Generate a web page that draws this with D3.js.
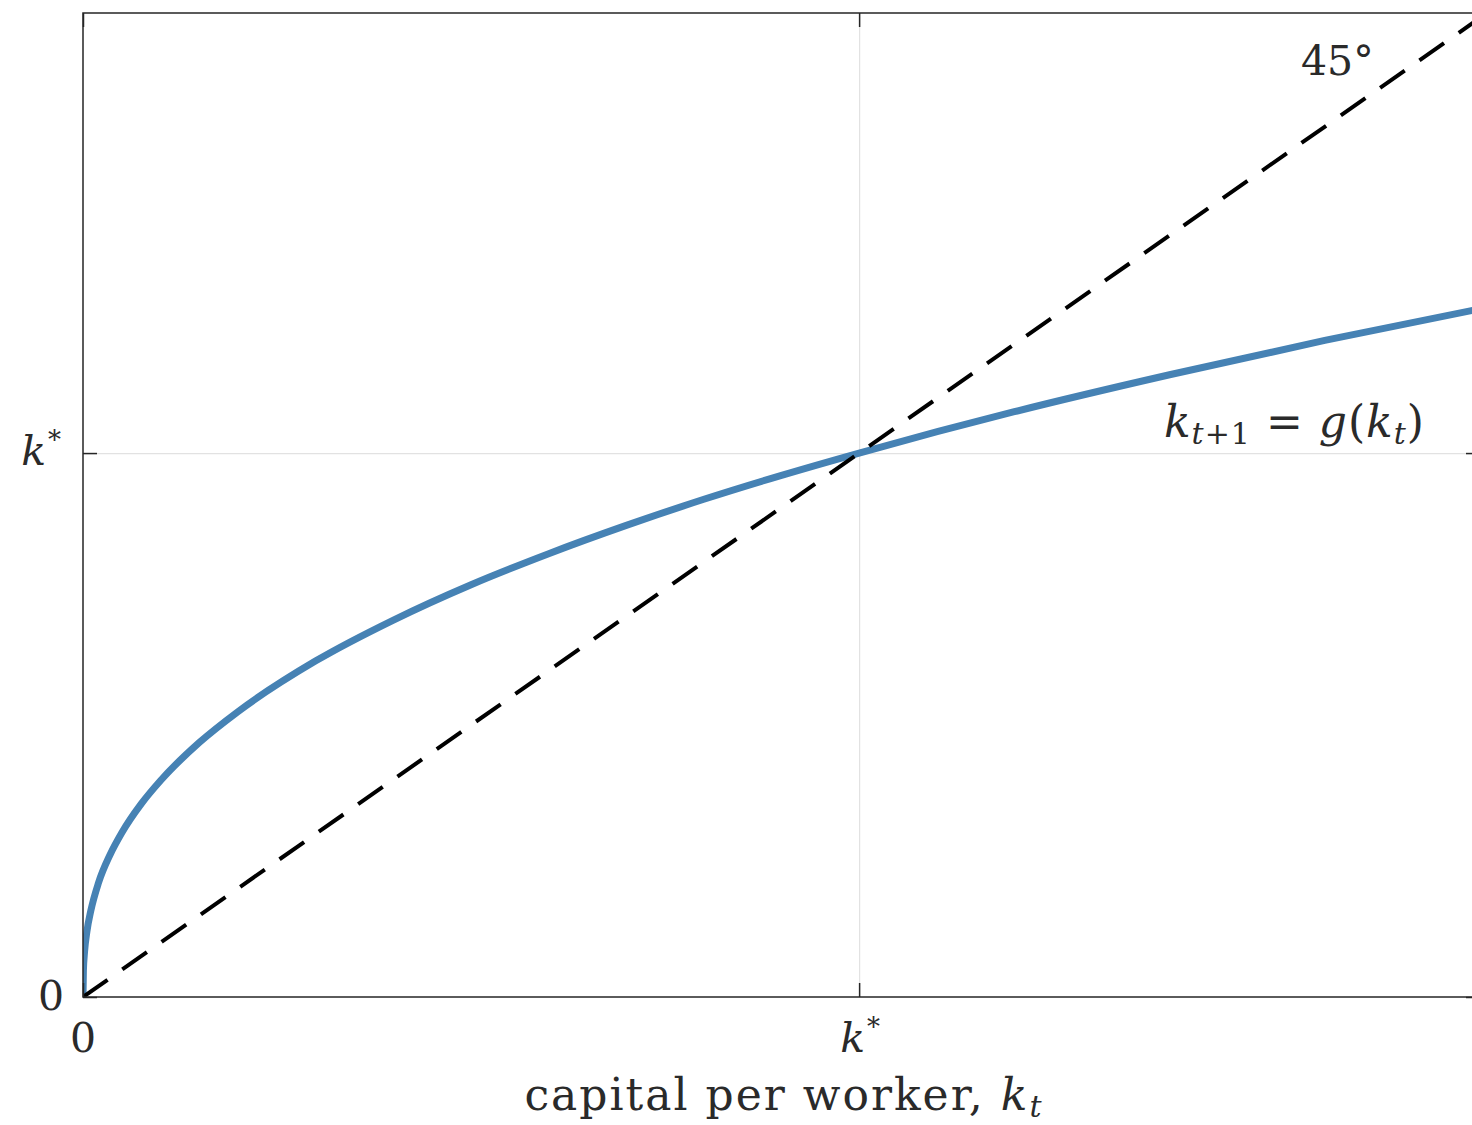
<!DOCTYPE html>
<html>
<head>
<meta charset="utf-8">
<script src="https://cdn.jsdelivr.net/npm/d3@7"></script>
<style>
  html, body { margin: 0; padding: 0; background: #fff; }
  svg { display: block; }
  text { font-family: "DejaVu Serif", "Liberation Serif", serif; fill: #2a2a2a; }
</style>
</head>
<body>
<svg id="chart" width="1472" height="1125"></svg>
<script>
// Capital per worker today (k_t) and next period (k_{t+1} = g(k_t)), in units of k*
const capital = [0, 0.0005, 0.002, 0.005, 0.01, 0.02, 0.035, 0.05, 0.075, 0.1, 0.15, 0.2,
                 0.3, 0.4, 0.5, 0.6, 0.7, 0.8, 0.9, 1.0, 1.2, 1.4, 1.6, 1.8];
const nextCapital = [0, 0.048, 0.083, 0.12, 0.158, 0.21, 0.262, 0.302, 0.355, 0.398, 0.468, 0.525,
                     0.618, 0.693, 0.758, 0.815, 0.867, 0.915, 0.959, 1.0, 1.076, 1.144, 1.207, 1.265];
// 45-degree reference line
const diagonal = [0, 1.8];
// Axis ticks: origin and steady state
const tickValues = [0, 1];
const tickLabels = ["0", "k*"];
const xDomain = [0, 1.8];
const yDomain = [0, 1.809];

const margin = { left: 83, top: 13 };
const plotW = 1397, plotH = 984;
const svg = d3.select("#chart");

const x = d3.scaleLinear().domain(xDomain).range([margin.left, margin.left + plotW]);
const y = d3.scaleLinear().domain(yDomain).range([margin.top + plotH, margin.top]);

svg.append("defs").append("clipPath").attr("id", "plot-clip")
  .append("rect")
  .attr("x", margin.left).attr("y", margin.top)
  .attr("width", plotW).attr("height", plotH);

// Grid lines at the steady state
const grid = svg.append("g").attr("class", "grid");
grid.append("g")
  .attr("transform", `translate(0,${margin.top + plotH})`)
  .call(d3.axisBottom(x).tickValues([1]).tickSize(-plotH).tickFormat(""))
  .call(g => g.select(".domain").remove())
  .call(g => g.selectAll("line").attr("stroke", "#e2e2e2").attr("stroke-width", 1.2));
grid.append("g")
  .attr("transform", `translate(${margin.left},0)`)
  .call(d3.axisLeft(y).tickValues([1]).tickSize(-plotW).tickFormat(""))
  .call(g => g.select(".domain").remove())
  .call(g => g.selectAll("line").attr("stroke", "#e2e2e2").attr("stroke-width", 1.2));

const plot = svg.append("g").attr("clip-path", "url(#plot-clip)");

// Law of motion for capital
plot.append("path")
  .datum(capital.map((k, i) => [k, nextCapital[i]]))
  .attr("fill", "none")
  .attr("stroke", "#4682b4")
  .attr("stroke-width", 7)
  .attr("d", d3.line().x(d => x(d[0])).y(d => y(d[1])).curve(d3.curveMonotoneX));

// 45-degree line
plot.append("path")
  .datum(diagonal.map(v => [v, v]))
  .attr("fill", "none")
  .attr("stroke", "#000")
  .attr("stroke-width", 4)
  .attr("stroke-dasharray", "30,18")
  .attr("d", d3.line().x(d => x(d[0])).y(d => y(d[1])));

// Axis box with inward ticks on all sides
const tickColor = "#262626";
function styleAxis(g) {
  g.select(".domain").remove();
  g.selectAll(".tick line").attr("stroke", tickColor).attr("stroke-width", 1.5);
}
svg.append("g")
  .attr("transform", `translate(0,${margin.top + plotH})`)
  .call(d3.axisBottom(x).tickValues(tickValues).tickSize(-14).tickFormat(""))
  .call(styleAxis);
svg.append("g")
  .attr("transform", `translate(0,${margin.top})`)
  .call(d3.axisTop(x).tickValues(tickValues).tickSize(-14).tickFormat(""))
  .call(styleAxis);
svg.append("g")
  .attr("transform", `translate(${margin.left},0)`)
  .call(d3.axisLeft(y).tickValues(tickValues).tickSize(-14).tickFormat(""))
  .call(styleAxis);
svg.append("g")
  .attr("transform", `translate(${margin.left + plotW},0)`)
  .call(d3.axisRight(y).tickValues(tickValues).tickSize(-14).tickFormat(""))
  .call(styleAxis);

svg.append("rect")
  .attr("x", margin.left).attr("y", margin.top)
  .attr("width", plotW).attr("height", plotH)
  .attr("fill", "none")
  .attr("stroke", tickColor)
  .attr("stroke-width", 1.5);

// Tick labels
function writeLabel(sel, label) {
  if (label === "k*") {
    sel.append("tspan").attr("font-style", "italic").text("k");
    sel.append("tspan").attr("font-size", 26).attr("dy", -16).attr("dx", 2).text("*");
  } else {
    sel.text(label);
  }
}
const labelSize = 41;
tickValues.forEach((v, i) => {
  const tb = svg.append("text")
    .attr("x", x(v) + (i === 1 ? 1 : 0))
    .attr("y", 1052)
    .attr("text-anchor", "middle")
    .attr("font-size", labelSize);
  writeLabel(tb, tickLabels[i]);

  const tl = svg.append("text")
    .attr("x", i === 0 ? 64 : 61)
    .attr("y", y(v) + (i === 0 ? 13 : 12))
    .attr("text-anchor", "end")
    .attr("font-size", labelSize);
  writeLabel(tl, tickLabels[i]);
});

// Axis title
const title = svg.append("text")
  .attr("x", 784).attr("y", 1110)
  .attr("text-anchor", "middle")
  .attr("font-size", 44)
  .attr("letter-spacing", 2);
title.append("tspan").text("capital per worker, ");
title.append("tspan").attr("font-style", "italic").text("k");
title.append("tspan").attr("font-style", "italic").attr("font-size", 30).attr("dy", 7).text("t");

// Annotations
svg.append("text")
  .attr("x", 1301).attr("y", 75)
  .attr("font-size", 41)
  .text("45°");

const eq = svg.append("text")
  .attr("x", 1425).attr("y", 437)
  .attr("text-anchor", "end")
  .attr("font-size", 44)
  .attr("letter-spacing", 1);
eq.append("tspan").attr("font-style", "italic").text("k");
eq.append("tspan").attr("font-style", "italic").attr("font-size", 30).attr("dy", 7).text("t");
eq.append("tspan").attr("font-size", 30).text("+1");
eq.append("tspan").attr("dy", -7).text(" = ");
eq.append("tspan").attr("font-style", "italic").text("g");
eq.append("tspan").text("(");
eq.append("tspan").attr("font-style", "italic").text("k");
eq.append("tspan").attr("font-style", "italic").attr("font-size", 30).attr("dy", 7).text("t");
eq.append("tspan").attr("dy", -7).text(")");
</script>
</body>
</html>
